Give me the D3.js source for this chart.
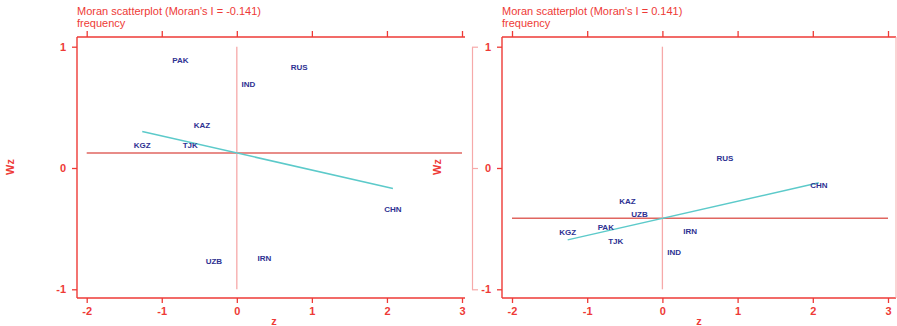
<!DOCTYPE html>
<html>
<head>
<meta charset="utf-8">
<script src="https://cdn.jsdelivr.net/npm/d3@7"></script>
<style>
  body { margin: 0; background: #fff; }
  svg { display: block; font-family: "Liberation Sans", Arial, sans-serif; }
</style>
</head>
<body>
<div id="chart"></div>
<script>
// data (same z, different lag Wz)
const countries = ["PAK", "RUS", "IND", "KAZ", "KGZ", "TJK", "CHN", "UZB", "IRN"];
const zValues = [-0.753, 0.831, 0.155, -0.464, -1.26, -0.62, 2.08, -0.305, 0.368];
const wzLeft = [0.885, 0.829, 0.687, 0.351, 0.186, 0.186, -0.341, -0.77, -0.742];
const wzRight = [-0.49, 0.082, -0.696, -0.275, -0.533, -0.605, -0.148, -0.385, -0.525];
const moranI = [-0.141, 0.141];
const meanWz = [0.124, -0.415];
const titles = ["Moran scatterplot (Moran's I = -0.141)", "Moran scatterplot (Moran's I = 0.141)"];
const subtitle = "frequency";
const xTicks = [-2, -1, 0, 1, 2, 3];
const yTicks = [-1, 0, 1];

const svgWidth = 897;
const svgHeight = 326;
const red = "#ee3a36";
const pink = "#f6a9a9";
const navy = "#2e3192";
const cyan = "#5ccaca";

const svg = d3
  .select("#chart")
  .append("svg")
  .attr("width", svgWidth)
  .attr("height", svgHeight);

const panels = [
  { wz: wzLeft, frameLeft: 77, frameRight: 465, xRange: [86.7, 462], titleX: 77, wzX: 10, zX: 274 },
  { wz: wzRight, frameLeft: 502, frameRight: 896, xRange: [512, 888], titleX: 502, wzX: 437, zX: 699 },
];
const frameTop = 37;
const frameBottom = 298;
const plainNum = (d) => String(d); // hyphen minus, like the original

const yScale = d3.scaleLinear().domain([-1, 1]).range([289.3, 46.7]);

panels.forEach((p, i) => {
  const xScale = d3.scaleLinear().domain([-2, 3]).range(p.xRange);
  const g = svg.append("g");

  // frame
  g.append("line").attr("x1", p.frameLeft).attr("x2", p.frameLeft).attr("y1", frameTop).attr("y2", frameBottom)
    .attr("stroke", red).attr("stroke-width", 1.4);
  g.append("line").attr("x1", p.frameLeft).attr("x2", p.frameRight).attr("y1", frameTop).attr("y2", frameTop)
    .attr("stroke", red).attr("stroke-width", 1.4);
  g.append("line").attr("x1", p.frameLeft).attr("x2", p.frameRight).attr("y1", frameBottom).attr("y2", frameBottom)
    .attr("stroke", red).attr("stroke-width", 1.4);
  if (i === 1) {
    g.append("line").attr("x1", p.frameRight).attr("x2", p.frameRight).attr("y1", frameTop).attr("y2", frameBottom)
      .attr("stroke", pink).attr("stroke-width", 1);
    // stray y axis line left of the second panel
    const extra = g.append("g").attr("transform", "translate(472,0)")
      .call(d3.axisRight(yScale).tickValues(yTicks).tickSize(6).tickSizeOuter(0).tickFormat(""));
    extra.selectAll("path, line").attr("stroke", pink).attr("stroke-width", 1.2);
  }

  // axes
  const xAxis = g.append("g").attr("transform", `translate(0,${frameBottom})`)
    .call(d3.axisBottom(xScale).tickValues(xTicks).tickSize(5).tickPadding(4).tickFormat(plainNum));
  const xTop = g.append("g").attr("transform", `translate(0,${frameTop})`)
    .call(d3.axisTop(xScale).tickValues(xTicks).tickSize(6).tickFormat(""));
  const yAxis = g.append("g").attr("transform", `translate(${p.frameLeft},0)`)
    .call(d3.axisLeft(yScale).tickValues(yTicks).tickSize(5).tickPadding(6).tickFormat(plainNum));

  [xAxis, xTop, yAxis].forEach((a) => {
    a.select(".domain").remove();
    a.selectAll("line").attr("stroke", red).attr("stroke-width", 1.3);
    a.selectAll("text")
      .attr("fill", red)
      .style("font-size", "11px")
      .style("font-weight", "bold")
      .style("font-family", "'Liberation Sans', Arial, sans-serif");
  });

  // reference lines at the means
  g.append("line")
    .attr("x1", xScale(-2)).attr("x2", xScale(3))
    .attr("y1", yScale(meanWz[i])).attr("y2", yScale(meanWz[i]))
    .attr("stroke", "#e06660").attr("stroke-width", 1.5);
  g.append("line")
    .attr("x1", xScale(0)).attr("x2", xScale(0))
    .attr("y1", yScale(1)).attr("y2", yScale(-1))
    .attr("stroke", pink).attr("stroke-width", 1.3);

  // fitted line, slope = Moran's I
  const zExtent = d3.extent(zValues);
  const fit = d3.line()
    .x((d) => xScale(d))
    .y((d) => yScale(meanWz[i] + moranI[i] * d));
  g.append("path")
    .datum(zExtent)
    .attr("fill", "none")
    .attr("stroke", cyan)
    .attr("stroke-width", 1.5)
    .attr("d", fit);

  // country labels
  g.selectAll(".lbl")
    .data(countries)
    .enter()
    .append("text")
    .attr("class", "lbl")
    .attr("x", (d, k) => xScale(zValues[k]))
    .attr("y", (d, k) => yScale(p.wz[k]))
    .attr("text-anchor", "middle")
    .attr("dominant-baseline", "central")
    .attr("fill", navy)
    .style("font-size", "8px")
    .style("font-weight", "bold")
    .text((d) => d);

  // titles
  g.append("text").attr("x", p.titleX).attr("y", 15)
    .attr("fill", red).style("font-size", "11px").text(titles[i]);
  g.append("text").attr("x", p.titleX).attr("y", 27.4)
    .attr("fill", red).style("font-size", "11px").text(subtitle);

  // axis titles
  g.append("text").attr("x", p.zX).attr("y", 325).attr("text-anchor", "middle")
    .attr("fill", red).style("font-size", "11px").style("font-weight", "bold").text("z");
  g.append("text")
    .attr("transform", `translate(${p.wzX + 4},167) rotate(-90)`)
    .attr("text-anchor", "middle")
    .attr("fill", red).style("font-size", "11px").style("font-weight", "bold").text("Wz");
});
</script>
</body>
</html>
